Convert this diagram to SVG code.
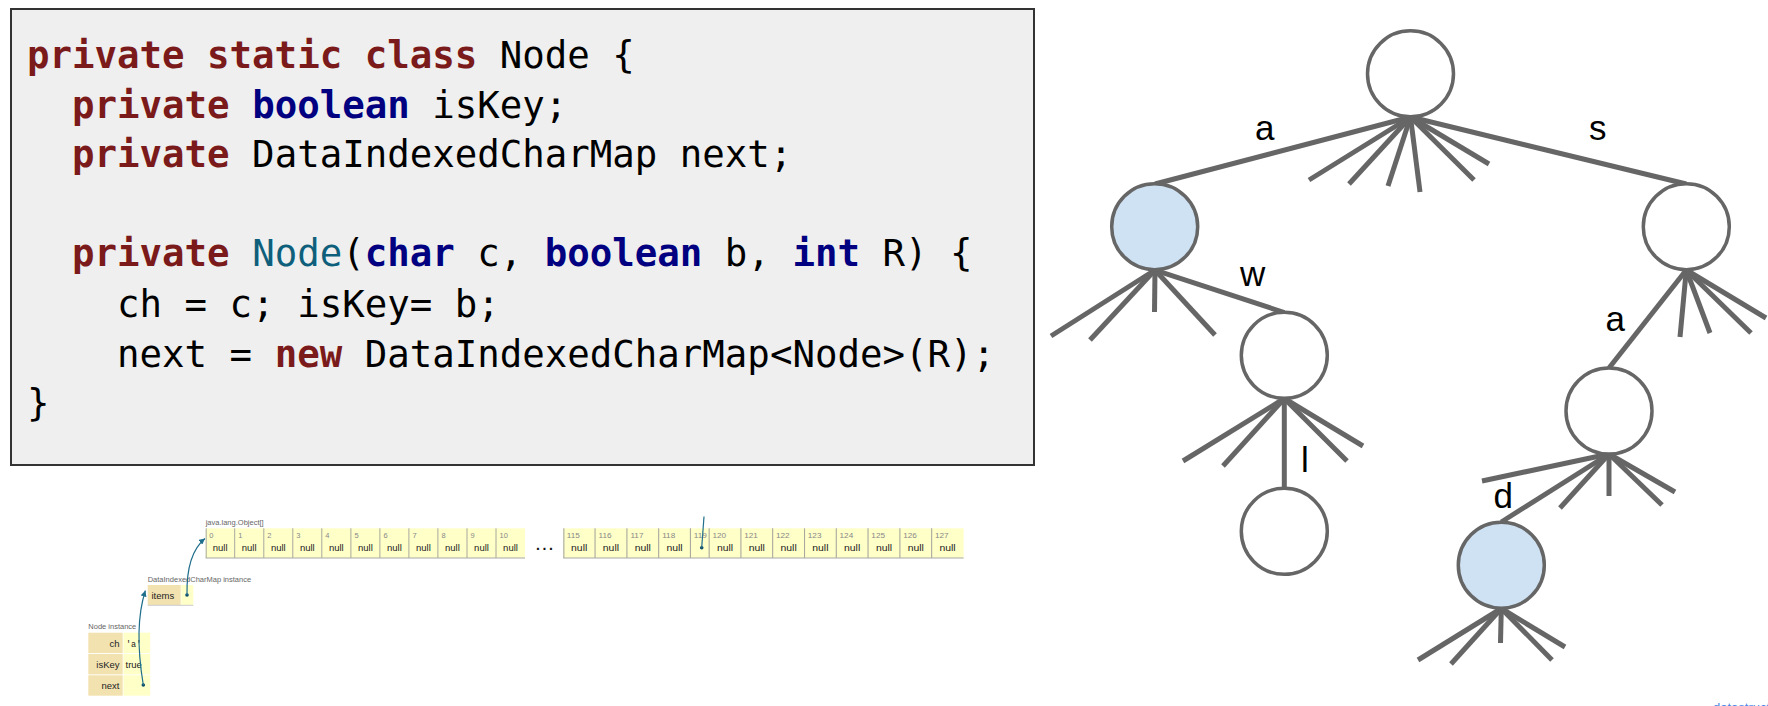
<svg xmlns="http://www.w3.org/2000/svg" width="1768" height="706" viewBox="0 0 1768 706">
<defs>
<style>
.code{font-family:"DejaVu Sans Mono","Liberation Mono",monospace;font-size:37.4px;fill:#000;}
.kw{fill:#7b1a1a;font-weight:bold;}
.ty{fill:#000080;font-weight:bold;}
.fn{fill:#0e5f7c;}
.node{fill:#fff;stroke:#666;stroke-width:3.5;}
.key{fill:#cfe2f3;}
.edge{stroke:#666;stroke-width:5;fill:none;stroke-linecap:butt;}
.lbl{font-family:"Liberation Sans",Arial,sans-serif;font-size:35px;fill:#000;}
.small{font-family:"Liberation Sans",Arial,sans-serif;font-size:7.5px;fill:#666;}
.idx{font-family:"Liberation Sans",Arial,sans-serif;font-size:7.5px;fill:#888;}
.cell{font-family:"Liberation Sans",Arial,sans-serif;font-size:9.5px;fill:#222;}
.ycell{fill:#ffffc8;}
.tan{fill:#f2e2b0;}
.sep{stroke:#a8a8a0;stroke-width:1;}
.ptr{stroke:#1f6e8c;stroke-width:1.2;fill:none;}
.dot{fill:#11506a;}
</style>
<marker id="ah" viewBox="0 0 6 6" refX="6" refY="3" markerWidth="6" markerHeight="6" markerUnits="userSpaceOnUse" orient="auto">
<path d="M0,0 L6,3 L0,6 z" fill="#1f6e8c"/>
</marker>
</defs>
<rect width="1768" height="706" fill="#fff"/>

<g id="code">
<rect x="11" y="9" width="1023" height="456" fill="#efefef" stroke="#333" stroke-width="2"/>
<text class="code" xml:space="preserve">
<tspan x="27" y="68"><tspan class="kw">private static class</tspan> Node {</tspan>
<tspan x="27" y="117.5">  <tspan class="kw">private</tspan> <tspan class="ty">boolean</tspan> isKey;</tspan>
<tspan x="27" y="167">  <tspan class="kw">private</tspan> DataIndexedCharMap next;</tspan>
<tspan x="27" y="266">  <tspan class="kw">private</tspan> <tspan class="fn">Node</tspan>(<tspan class="ty">char</tspan> c, <tspan class="ty">boolean</tspan> b, <tspan class="ty">int</tspan> R) {</tspan>
<tspan x="27" y="316.5">    ch = c; isKey= b;</tspan>
<tspan x="27" y="366.5">    next = <tspan class="kw">new</tspan> DataIndexedCharMap&lt;Node&gt;(R);</tspan>
<tspan x="27" y="416">}</tspan>
</text>
</g>

<g id="memory">
<g id="node-instance">
<text class="small" x="88.3" y="629">Node instance</text>
<rect class="tan" x="88.3" y="632.7" width="34.4" height="20.4"/>
<rect class="tan" x="88.3" y="654" width="34.4" height="20.4"/>
<rect class="tan" x="88.3" y="675.3" width="34.4" height="20.4"/>
<rect class="ycell" x="123.5" y="632.7" width="26.7" height="20.4"/>
<rect class="ycell" x="123.5" y="654" width="26.7" height="20.4"/>
<rect class="ycell" x="123.5" y="675.3" width="26.7" height="20.4"/>
<text class="cell" x="119.5" y="646.7" text-anchor="end">ch</text>
<text class="cell" x="119.5" y="668" text-anchor="end">isKey</text>
<text class="cell" x="119.5" y="689" text-anchor="end">next</text>
<text class="cell" x="126" y="646.5" style="font-family:'Liberation Mono',monospace;font-size:8.5px">'a'</text>
<text class="cell" x="125.5" y="668">true</text>
<circle class="dot" cx="143.3" cy="685" r="1.8"/>
</g>
<g id="charmap-instance">
<text class="small" x="147.7" y="581.7">DataIndexedCharMap instance</text>
<rect class="tan" x="147.7" y="585" width="33" height="20"/>
<rect class="ycell" x="181.3" y="585" width="12" height="20"/>
<line x1="147.7" y1="605.3" x2="193.3" y2="605.3" stroke="#ccc" stroke-width="1"/>
<text class="cell" x="151.5" y="599">items</text>
<circle class="dot" cx="187" cy="595" r="1.8"/>
</g>
<g id="object-array">
<text class="small" x="205.7" y="525">java.lang.Object[]</text>
<g id="seg1">
<rect class="ycell" x="205.7" y="528.3" width="319.3" height="29.4"/>
<line class="sep" x1="205.7" y1="558" x2="525" y2="558"/>
<g class="sep">
<line x1="206.2" y1="528.3" x2="206.2" y2="558"/>
<line x1="234.7" y1="528.3" x2="234.7" y2="558"/>
<line x1="263.8" y1="528.3" x2="263.8" y2="558"/>
<line x1="292.8" y1="528.3" x2="292.8" y2="558"/>
<line x1="321.8" y1="528.3" x2="321.8" y2="558"/>
<line x1="350.9" y1="528.3" x2="350.9" y2="558"/>
<line x1="379.9" y1="528.3" x2="379.9" y2="558"/>
<line x1="408.9" y1="528.3" x2="408.9" y2="558"/>
<line x1="437.9" y1="528.3" x2="437.9" y2="558"/>
<line x1="467" y1="528.3" x2="467" y2="558"/>
<line x1="496" y1="528.3" x2="496" y2="558"/>
</g>
<g class="idx">
<text x="209.2" y="537.5">0</text><text x="238.2" y="537.5">1</text><text x="267.3" y="537.5">2</text><text x="296.3" y="537.5">3</text><text x="325.3" y="537.5">4</text><text x="354.4" y="537.5">5</text><text x="383.4" y="537.5">6</text><text x="412.4" y="537.5">7</text><text x="441.4" y="537.5">8</text><text x="470.5" y="537.5">9</text><text x="499.5" y="537.5">10</text>
</g>
<g class="cell" text-anchor="middle">
<text x="220.2" y="550.7">null</text><text x="249.2" y="550.7">null</text><text x="278.3" y="550.7">null</text><text x="307.3" y="550.7">null</text><text x="336.3" y="550.7">null</text><text x="365.4" y="550.7">null</text><text x="394.4" y="550.7">null</text><text x="423.4" y="550.7">null</text><text x="452.4" y="550.7">null</text><text x="481.5" y="550.7">null</text><text x="510.5" y="550.7">null</text>
</g>
</g>
<text x="536" y="549.5" style="font-family:'Liberation Sans',Arial,sans-serif;font-size:14px;font-weight:bold;letter-spacing:2.6px" fill="#111">...</text>
<g id="seg2" transform="translate(563.3,0) scale(1.095,1)">
<rect class="ycell" x="0" y="528.3" width="365.6" height="29.4"/>
<line class="sep" x1="0" y1="558" x2="365.6" y2="558"/>
<g class="sep">
<line x1="0.5" y1="528.3" x2="0.5" y2="558"/>
<line x1="29" y1="528.3" x2="29" y2="558"/>
<line x1="58.1" y1="528.3" x2="58.1" y2="558"/>
<line x1="87.1" y1="528.3" x2="87.1" y2="558"/>
<line x1="116.1" y1="528.3" x2="116.1" y2="558"/>
<line x1="133.2" y1="528.3" x2="133.2" y2="558"/>
<line x1="162.2" y1="528.3" x2="162.2" y2="558"/>
<line x1="191.2" y1="528.3" x2="191.2" y2="558"/>
<line x1="220.3" y1="528.3" x2="220.3" y2="558"/>
<line x1="249.3" y1="528.3" x2="249.3" y2="558"/>
<line x1="278.3" y1="528.3" x2="278.3" y2="558"/>
<line x1="307.4" y1="528.3" x2="307.4" y2="558"/>
<line x1="336.4" y1="528.3" x2="336.4" y2="558"/>
</g>
<g class="idx">
<text x="3.2" y="537.8">115</text><text x="32.2" y="537.8">116</text><text x="61.3" y="537.8">117</text><text x="90.3" y="537.8">118</text><text x="119.2" y="537.8">119</text><text x="136.2" y="537.8">120</text><text x="165.2" y="537.8">121</text><text x="194.2" y="537.8">122</text><text x="223.3" y="537.8">123</text><text x="252.3" y="537.8">124</text><text x="281.3" y="537.8">125</text><text x="310.4" y="537.8">126</text><text x="339.4" y="537.8">127</text>
</g>
<g class="cell" text-anchor="middle">
<text x="14.5" y="550.7">null</text><text x="43.5" y="550.7">null</text><text x="72.6" y="550.7">null</text><text x="101.6" y="550.7">null</text><text x="147.7" y="550.7">null</text><text x="176.7" y="550.7">null</text><text x="205.8" y="550.7">null</text><text x="234.8" y="550.7">null</text><text x="263.8" y="550.7">null</text><text x="292.9" y="550.7">null</text><text x="321.9" y="550.7">null</text><text x="350.9" y="550.7">null</text>
</g>
</g>
<circle class="dot" cx="701.7" cy="547.7" r="1.8"/>
</g>
<g id="pointers">
<path class="ptr" d="M143.3,685 C137.5,650 137.5,615 145.4,590.5" marker-end="url(#ah)"/>
<path class="ptr" d="M187,595 C186.5,570 191,550 205,538.5" marker-end="url(#ah)"/>
<line class="ptr" x1="701.7" y1="547.7" x2="704" y2="516.5"/>
</g>
</g>

<g id="connectors">
<g class="edge">
<line x1="1410.5" y1="117" x2="1155" y2="184"/>
<line x1="1410.5" y1="117" x2="1686.3" y2="184"/>
<line x1="1410.5" y1="117" x2="1309" y2="180"/>
<line x1="1410.5" y1="117" x2="1349" y2="184"/>
<line x1="1410.5" y1="117" x2="1388" y2="186"/>
<line x1="1410.5" y1="117" x2="1420" y2="192"/>
<line x1="1410.5" y1="117" x2="1474" y2="180"/>
<line x1="1410.5" y1="117" x2="1489" y2="164"/>

<line x1="1155" y1="270" x2="1284.3" y2="312.5"/>
<line x1="1155" y1="270" x2="1051" y2="336"/>
<line x1="1155" y1="270" x2="1090" y2="340"/>
<line x1="1155" y1="270" x2="1154.5" y2="312"/>
<line x1="1155" y1="270" x2="1215" y2="335"/>

<line x1="1284.3" y1="398.5" x2="1284.3" y2="488"/>
<line x1="1284.3" y1="398.5" x2="1183" y2="461"/>
<line x1="1284.3" y1="398.5" x2="1223" y2="466"/>
<line x1="1284.3" y1="398.5" x2="1347" y2="461"/>
<line x1="1284.3" y1="398.5" x2="1363" y2="446"/>

<line x1="1686.3" y1="270" x2="1609" y2="368"/>
<line x1="1686.3" y1="270" x2="1680" y2="337"/>
<line x1="1686.3" y1="270" x2="1710" y2="333"/>
<line x1="1686.3" y1="270" x2="1751" y2="333"/>
<line x1="1686.3" y1="270" x2="1766" y2="318"/>

<line x1="1609" y1="454" x2="1501.3" y2="522"/>
<line x1="1609" y1="454" x2="1482" y2="481"/>
<line x1="1609" y1="454" x2="1560" y2="508"/>
<line x1="1609" y1="454" x2="1609" y2="496"/>
<line x1="1609" y1="454" x2="1662" y2="505"/>
<line x1="1609" y1="454" x2="1675" y2="492"/>

<line x1="1501.3" y1="608.5" x2="1418" y2="660"/>
<line x1="1501.3" y1="608.5" x2="1451" y2="664"/>
<line x1="1501.3" y1="608.5" x2="1500.5" y2="643"/>
<line x1="1501.3" y1="608.5" x2="1552" y2="660"/>
<line x1="1501.3" y1="608.5" x2="1565" y2="647"/>
</g>
<g class="lbl">
<text x="1255" y="140">a</text>
<text x="1589" y="140">s</text>
<text x="1240" y="286">w</text>
<text x="1605.5" y="330.5">a</text>
<text x="1301" y="472">l</text>
<text x="1493.5" y="508">d</text>
</g>
</g>

<g id="root"><circle class="node" cx="1410.5" cy="73.8" r="43"/></g>
<g id="node-a"><circle class="node key" cx="1154.7" cy="226.7" r="43"/></g>
<g id="node-s"><circle class="node" cx="1686.3" cy="226.7" r="43"/></g>
<g id="node-aw"><circle class="node" cx="1284.3" cy="355.3" r="43"/></g>
<g id="node-awl"><circle class="node" cx="1284.3" cy="531.3" r="43"/></g>
<g id="node-sa"><circle class="node" cx="1609" cy="411" r="43"/></g>
<g id="node-sad"><circle class="node key" cx="1501.3" cy="565.2" r="43"/></g>

<text x="1713" y="712" style="font-family:'Liberation Sans',Arial,sans-serif;font-size:13px" fill="#4a86e8">datastructur.es</text>
</svg>
